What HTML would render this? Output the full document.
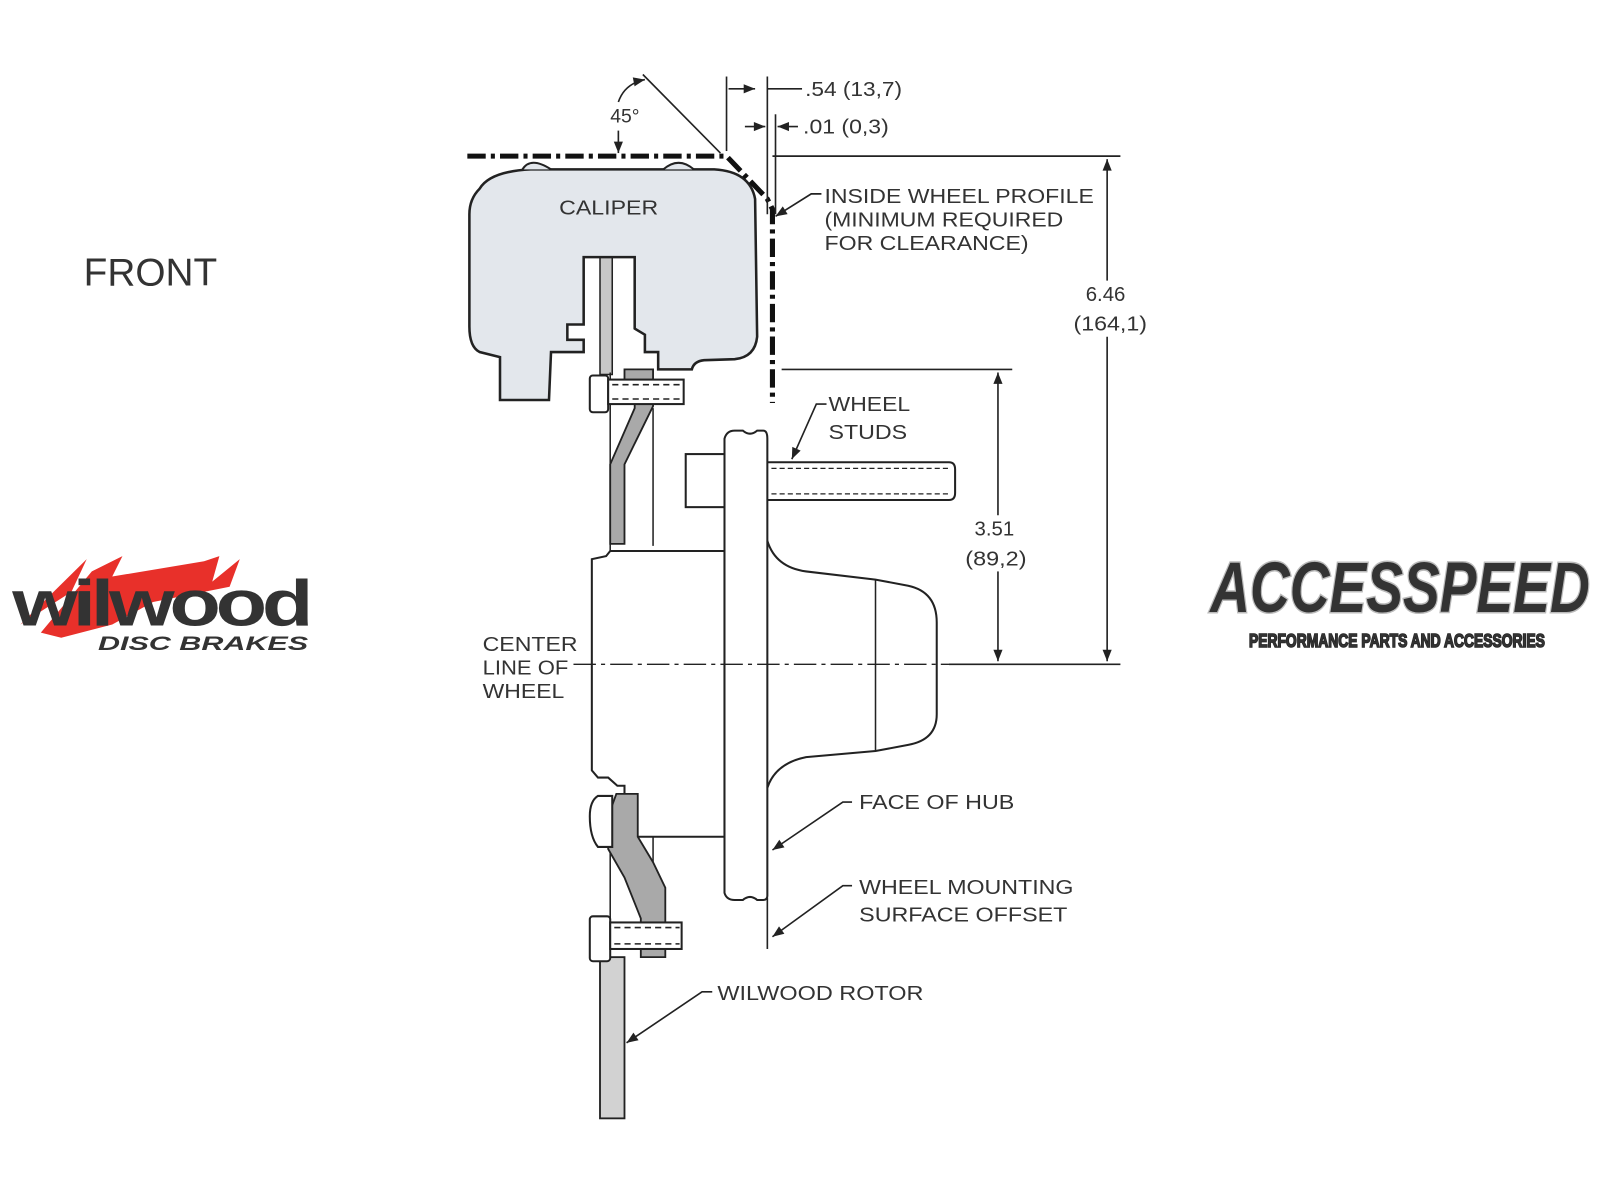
<!DOCTYPE html>
<html><head><meta charset="utf-8"><style>
html,body{margin:0;padding:0;background:#fff;}
svg{display:block;}
text{font-family:"Liberation Sans",Arial,sans-serif;fill:#333;}
</style></head><body>
<svg width="1600" height="1200" viewBox="0 0 1568 1176" preserveAspectRatio="none" xmlns="http://www.w3.org/2000/svg">
<defs>
<marker id="ar" viewBox="0 0 10 10" refX="10" refY="5" markerWidth="9" markerHeight="7" orient="auto-start-reverse"><path d="M0,1 L10,5 L0,9 z" fill="#222"/></marker>
</defs>
<rect width="1568" height="1176" fill="#fff"/>
<text x="82" y="280" font-size="38" fill="#222">FRONT</text>

<g>
<path d="M40,620 L90,560 L120,545 L110,565 L200,550 L215,545 L208,570 L235,548 L225,575 L150,590 L110,612 L60,625 Z" fill="#e8302a"/>
<path d="M20,612 L85,548 L70,580 Z" fill="#e8302a"/>
<text x="12" y="613" font-size="64" font-weight="bold" fill="#111" style="letter-spacing:-4px" textLength="290" lengthAdjust="spacingAndGlyphs">wilwood</text>
<text x="96" y="637" font-size="19" font-weight="bold" font-style="italic" fill="#111" textLength="206" lengthAdjust="spacingAndGlyphs">DISC BRAKES</text>
</g>
<g>
<text x="1186" y="600" font-size="70" font-weight="bold" font-style="italic" fill="#111" stroke="#bbb" stroke-width="3" paint-order="stroke" textLength="372" lengthAdjust="spacingAndGlyphs">ACCESSPEED</text>
<text x="1224" y="634" font-size="18" font-weight="bold" fill="#fff" stroke="#222" stroke-width="1.5" paint-order="stroke" textLength="290" lengthAdjust="spacingAndGlyphs">PERFORMANCE PARTS AND ACCESSORIES</text>
</g>

<g stroke="#222" fill="none" stroke-width="2">
<rect x="588" y="252" width="12" height="115" fill="#c8c8c8" stroke-width="1.5"/>
<path d="M470,185 Q480,168 520,166 L700,166 Q735,168 740,195 L742,330 Q740,350 720,352 L690,353 Q680,354 678,362 L645,362 L645,345 L632,345 L632,328 L622,322 L622,252 L572,252 L572,318 L556,318 L556,333 L572,333 L572,345 L540,345 L538,392 L490,392 L490,350 L470,345 Q460,340 460,320 L460,210 Q460,195 470,185 Z" fill="#e3e7ec" stroke-width="2.5"/>
<path d="M512,166 Q520,153 540,166" fill="#e3e7ec"/>
<path d="M650,166 Q665,153 680,166" fill="#e3e7ec"/>
<text x="548" y="210" font-size="20" stroke="none" textLength="97" lengthAdjust="spacingAndGlyphs">CALIPER</text>

<line x1="598" y1="365" x2="598" y2="540" stroke-width="1.5"/>
<line x1="640" y1="400" x2="640" y2="535" stroke-width="1.5"/>
<path d="M612,362 L640,362 L640,398 L612,455 L612,533 L598,533 L598,455 L622,400 L622,390 L612,390 Z" fill="#a9a9a9" stroke-width="1.8"/>
<rect x="578" y="368" width="18" height="36" fill="#fff" rx="3"/>
<rect x="596" y="372" width="74" height="24" fill="#fff"/>
<line x1="600" y1="377" x2="668" y2="377" stroke-dasharray="6 4" stroke-width="1.5"/>
<line x1="600" y1="391" x2="668" y2="391" stroke-dasharray="6 4" stroke-width="1.5"/>

<path d="M580,548 L580,755 L586,762 L596,762 L605,770 L612,770 L612,820 L710,820 L710,540 L598,540 L594,545 Z" fill="#fff"/>
<path d="M710,430 Q712,422 720,422 L728,422 Q735,428 742,422 L748,422 Q752,422 752,430 L752,878 Q752,882 748,882 L742,882 Q735,876 728,882 L720,882 Q712,882 710,875 Z" fill="#fff"/>
<rect x="672" y="445" width="38" height="52" fill="#fff"/>
<path d="M752,453 L930,453 Q936,453 936,460 L936,483 Q936,490 930,490 L752,490"/>
<line x1="756" y1="459" x2="932" y2="459" stroke-dasharray="5 3" stroke-width="1.3"/>
<line x1="756" y1="484" x2="932" y2="484" stroke-dasharray="5 3" stroke-width="1.3"/>
<path d="M752,530 Q760,556 790,560 L858,568 L890,574 Q918,580 918,610 L918,700 Q918,725 890,730 L858,736 L790,742 Q760,748 752,772"/>
<line x1="858" y1="568" x2="858" y2="736" stroke-width="1.5"/>

<line x1="598" y1="780" x2="598" y2="940" stroke-width="1.5"/>
<line x1="640" y1="820" x2="640" y2="920" stroke-width="1.5"/>
<path d="M604,778 L625,778 L625,820 L640,845 L652,870 L652,938 L628,938 L628,900 L612,860 L596,832 L596,800 Z" fill="#a9a9a9" stroke-width="1.8"/>
<path d="M586,780 Q578,785 578,800 Q578,820 586,830 L600,830 L600,780 Z" fill="#fff"/>
<rect x="588" y="938" width="24" height="158" fill="#d2d2d2" stroke-width="1.8"/>
<rect x="578" y="898" width="20" height="44" fill="#fff" rx="3"/>
<rect x="598" y="904" width="70" height="26" fill="#fff"/>
<line x1="602" y1="909" x2="666" y2="909" stroke-dasharray="6 4" stroke-width="1.5"/>
<line x1="602" y1="925" x2="666" y2="925" stroke-dasharray="6 4" stroke-width="1.5"/>
</g>

<g stroke="#111" fill="none" stroke-width="5" stroke-dasharray="18 5 4 5">
<path d="M458,153 L712,153 L752,195 L757,205 L757,395"/>
</g>
<g stroke="#222" fill="none" stroke-width="1.6">
<line x1="630" y1="73" x2="706" y2="150"/>
<path d="M632,78 Q612,82 606,100" marker-start="url(#ar)"/>
<path d="M606,128 Q606,140 606,150" marker-end="url(#ar)"/>
</g>
<text x="598" y="120" font-size="19">45°</text>

<g stroke="#222" fill="none" stroke-width="1.6">
<line x1="712" y1="75" x2="712" y2="148"/>
<line x1="752" y1="75" x2="752" y2="210"/>
<line x1="760" y1="112" x2="760" y2="210"/>
<line x1="714" y1="87" x2="740" y2="87" marker-end="url(#ar)"/>
<line x1="752" y1="87" x2="786" y2="87"/>
<line x1="730" y1="124" x2="750" y2="124" marker-end="url(#ar)"/>
<line x1="782" y1="124" x2="762" y2="124" marker-end="url(#ar)"/>
<line x1="757" y1="153" x2="1098" y2="153"/>
<line x1="766" y1="362" x2="992" y2="362"/>
<line x1="1085" y1="275" x2="1085" y2="156" marker-end="url(#ar)"/>
<line x1="1085" y1="330" x2="1085" y2="648" marker-end="url(#ar)"/>
<line x1="978" y1="505" x2="978" y2="365" marker-end="url(#ar)"/>
<line x1="978" y1="560" x2="978" y2="648" marker-end="url(#ar)"/>
<line x1="930" y1="651" x2="1098" y2="651"/>
<line x1="562" y1="651" x2="930" y2="651" stroke-dasharray="22 5 4 5" stroke-width="1.4"/>
<path d="M805,190 L795,190 L760,212" marker-end="url(#ar)"/>
<path d="M810,396 L800,396 L776,450" marker-end="url(#ar)"/>
<path d="M835,786 L826,786 L757,833" marker-end="url(#ar)"/>
<path d="M835,868 L826,868 L757,918" marker-end="url(#ar)"/>
<path d="M698,972 L688,972 L614,1022" marker-end="url(#ar)"/>
<line x1="752" y1="880" x2="752" y2="930"/>
</g>

<g font-size="20">
<text x="789" y="94" textLength="95" lengthAdjust="spacingAndGlyphs">.54 (13,7)</text>
<text x="787" y="131" textLength="84" lengthAdjust="spacingAndGlyphs">.01 (0,3)</text>
<text x="808" y="199" textLength="264" lengthAdjust="spacingAndGlyphs">INSIDE WHEEL PROFILE</text>
<text x="808" y="222" textLength="234" lengthAdjust="spacingAndGlyphs">(MINIMUM REQUIRED</text>
<text x="808" y="245" textLength="200" lengthAdjust="spacingAndGlyphs">FOR CLEARANCE)</text>
<text x="1064" y="295">6.46</text>
<text x="1052" y="324" textLength="72" lengthAdjust="spacingAndGlyphs">(164,1)</text>
<text x="955" y="525">3.51</text>
<text x="946" y="554" textLength="60" lengthAdjust="spacingAndGlyphs">(89,2)</text>
<text x="812" y="403" textLength="80" lengthAdjust="spacingAndGlyphs">WHEEL</text>
<text x="812" y="430" textLength="77" lengthAdjust="spacingAndGlyphs">STUDS</text>
<text x="473" y="638" textLength="93" lengthAdjust="spacingAndGlyphs">CENTER</text>
<text x="473" y="661" textLength="84" lengthAdjust="spacingAndGlyphs">LINE OF</text>
<text x="473" y="684" textLength="80" lengthAdjust="spacingAndGlyphs">WHEEL</text>
<text x="842" y="793" textLength="152" lengthAdjust="spacingAndGlyphs">FACE OF HUB</text>
<text x="842" y="876" textLength="210" lengthAdjust="spacingAndGlyphs">WHEEL MOUNTING</text>
<text x="842" y="903" textLength="204" lengthAdjust="spacingAndGlyphs">SURFACE OFFSET</text>
<text x="703" y="980" textLength="202" lengthAdjust="spacingAndGlyphs">WILWOOD ROTOR</text>
</g>
</svg>
</body></html>
